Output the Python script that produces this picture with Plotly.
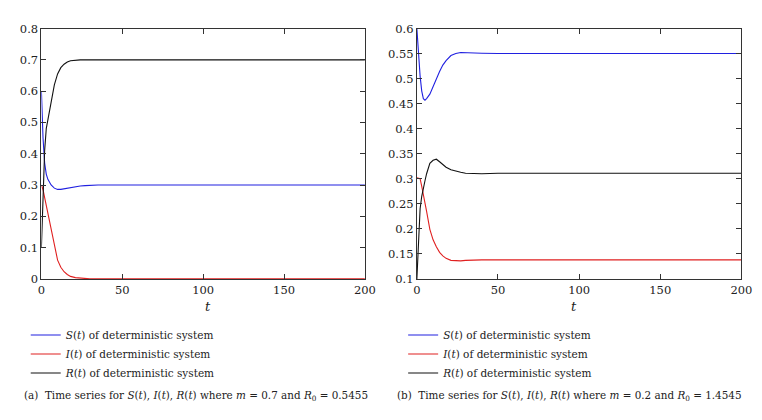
import plotly.graph_objects as go

# time grid (shared)
t = [0, 1, 2, 3, 4, 5, 6, 8, 10, 12, 14, 16, 18, 21, 24, 27, 30, 35, 40, 50,
     75, 100, 125, 150, 175, 200]

# panel (a): m = 0.7, R0 = 0.5455
S_a = [0.60, 0.45, 0.37, 0.335, 0.318, 0.308, 0.300, 0.290, 0.286, 0.286, 0.288,
       0.290, 0.292, 0.295, 0.297, 0.298, 0.299, 0.300, 0.300, 0.300,
       0.300, 0.300, 0.300, 0.300, 0.300, 0.300]
I_a = [0.30, 0.285, 0.26, 0.235, 0.21, 0.18, 0.155, 0.105, 0.06, 0.037, 0.023,
       0.014, 0.008, 0.004, 0.002, 0.001, 0.0, 0.0, 0.0, 0.0,
       0.0, 0.0, 0.0, 0.0, 0.0, 0.0]
R_a = [0.10, 0.30, 0.41, 0.48, 0.51, 0.535, 0.565, 0.62, 0.655, 0.675, 0.686,
       0.693, 0.697, 0.699, 0.70, 0.70, 0.70, 0.70, 0.70, 0.70,
       0.70, 0.70, 0.70, 0.70, 0.70, 0.70]

# panel (b): m = 0.2, R0 = 1.4545
S_b = [0.60, 0.55, 0.505, 0.475, 0.46, 0.457, 0.46, 0.469, 0.485, 0.50, 0.514,
       0.527, 0.536, 0.546, 0.55, 0.552, 0.552, 0.551, 0.5505, 0.55,
       0.55, 0.55, 0.55, 0.55, 0.55, 0.55]
I_b = [0.302, 0.301, 0.30, 0.285, 0.27, 0.254, 0.235, 0.199, 0.178, 0.164, 0.153,
       0.146, 0.141, 0.137, 0.136, 0.136, 0.137, 0.138, 0.138, 0.138,
       0.138, 0.138, 0.138, 0.138, 0.138, 0.138]
R_b = [0.10, 0.17, 0.24, 0.265, 0.285, 0.296, 0.31, 0.331, 0.337, 0.339, 0.334,
       0.328, 0.323, 0.318, 0.315, 0.313, 0.311, 0.310, 0.310, 0.311,
       0.311, 0.311, 0.311, 0.311, 0.311, 0.311]

x_ticks = [0, 50, 100, 150, 200]
y_ticks_a = [0, 0.1, 0.2, 0.3, 0.4, 0.5, 0.6, 0.7, 0.8]
y_ticks_b = [0.1, 0.15, 0.2, 0.25, 0.3, 0.35, 0.4, 0.45, 0.5, 0.55, 0.6]
y_ticklabels_b = ["0.1", "0.15", "0.2", "0.25", "0.3", "0.35", "0.4", "0.45", "0.5", "0.55", "0.6"]

names = ["<i>S</i>(<i>t</i>) of deterministic system",
         "<i>I</i>(<i>t</i>) of deterministic system",
         "<i>R</i>(<i>t</i>) of deterministic system"]
colors = ["#2020e0", "#e02020", "#111111"]

FONT = "DejaVu Serif"

fig = go.Figure()
for ys, nm, c in zip([S_a, I_a, R_a], names, colors):
    fig.add_trace(go.Scatter(x=t, y=ys, mode="lines", name=nm,
                             line=dict(color=c, width=1.1),
                             xaxis="x", yaxis="y", legend="legend"))
for ys, nm, c in zip([S_b, I_b, R_b], names, colors):
    fig.add_trace(go.Scatter(x=t, y=ys, mode="lines", name=nm,
                             line=dict(color=c, width=1.1),
                             xaxis="x2", yaxis="y2", legend="legend2"))

ydom = [1 - 273 / 420, 1 - 14 / 420]
axis_common = dict(showline=True, linecolor="#333", linewidth=1, mirror="allticks",
                   ticks="inside", ticklen=5, tickcolor="#333", showgrid=False,
                   zeroline=False, tickfont=dict(family=FONT, size=11.5, color="#222"))

fig.update_layout(
    width=762, height=420,
    margin=dict(l=0, r=0, t=0, b=0),
    paper_bgcolor="white", plot_bgcolor="white",
    font=dict(family=FONT, size=11.5, color="#222"),
    xaxis=dict(domain=[30 / 762, 360 / 762], range=[0, 200], tickvals=x_ticks,
               anchor="y", **axis_common),
    yaxis=dict(domain=ydom, range=[0, 0.8], tickvals=y_ticks_a, anchor="x",
               **axis_common),
    xaxis2=dict(domain=[413 / 762, 744 / 762], range=[0, 200], tickvals=x_ticks,
                anchor="y2", **axis_common),
    yaxis2=dict(domain=ydom, range=[0.1, 0.6], tickvals=y_ticks_b,
                ticktext=y_ticklabels_b, anchor="x2", **axis_common),
    legend=dict(x=14 / 762, y=1 - 316 / 420, xanchor="left", yanchor="top",
                bgcolor="rgba(0,0,0,0)", font=dict(family=FONT, size=10.5, color="#222"),
                tracegroupgap=0, itemwidth=30),
    legend2=dict(x=399 / 762, y=1 - 316 / 420, xanchor="left", yanchor="top",
                 bgcolor="rgba(0,0,0,0)", font=dict(family=FONT, size=10.5, color="#222"),
                 tracegroupgap=0, itemwidth=30),
    showlegend=True,
)

for xc in [195 / 762, 578 / 762]:
    fig.add_annotation(x=xc, y=1 - 292 / 420, xref="paper", yref="paper",
                       yanchor="top", text="<i>t</i>", showarrow=False,
                       font=dict(family=FONT, size=13, color="#222"))

captions = [
    "(a)  Time series for <i>S</i>(<i>t</i>), <i>I</i>(<i>t</i>), <i>R</i>(<i>t</i>) where <i>m</i> = 0.7 and <i>R</i><sub>0</sub> = 0.5455",
    "(b)  Time series for <i>S</i>(<i>t</i>), <i>I</i>(<i>t</i>), <i>R</i>(<i>t</i>) where <i>m</i> = 0.2 and <i>R</i><sub>0</sub> = 1.4545",
]
for xc, txt in zip([10 / 762, 391 / 762], captions):
    fig.add_annotation(x=xc, y=1 - 385 / 420, xref="paper", yref="paper",
                       xanchor="left", yanchor="top", text=txt, showarrow=False,
                       font=dict(family=FONT, size=10.4, color="#222"))

fig.write_html("out.html")
